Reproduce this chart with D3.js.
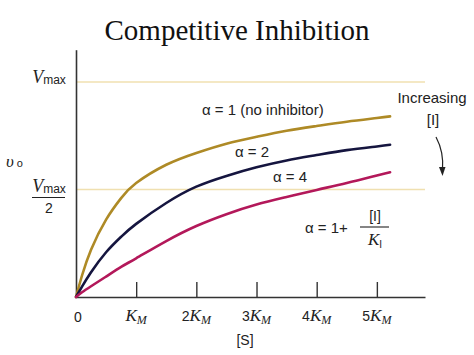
<!DOCTYPE html>
<html><head><meta charset="utf-8">
<script src="https://cdn.jsdelivr.net/npm/d3@7"></script>
<style>
html,body{margin:0;padding:0;background:#fff;}
svg{display:block;}
.sans{font-family:"Liberation Sans",Arial,sans-serif;}
.serif{font-family:"Liberation Serif","Times New Roman",serif;}
</style>
</head><body>
<svg id="c" width="474" height="355"></svg>
<script>
// ---- data (fractions of Vmax, [S] in units of K_M) ----
const sValues   = [0, 0.1, 0.25, 0.5, 0.75, 1, 1.5, 2, 2.5, 3, 3.5, 4, 4.5, 5, 5.22];
const alpha1    = [0, 0.10, 0.22, 0.36, 0.46, 0.53, 0.615, 0.67, 0.713, 0.745, 0.773, 0.795, 0.815, 0.832, 0.84];
const alpha2    = [0, 0.048, 0.115, 0.208, 0.28, 0.34, 0.437, 0.513, 0.563, 0.603, 0.635, 0.66, 0.683, 0.70, 0.708];
const alpha4    = [0, 0.022, 0.05, 0.095, 0.14, 0.18, 0.26, 0.33, 0.385, 0.43, 0.465, 0.498, 0.53, 0.565, 0.58];
const seriesNames = ["α = 1 (no inhibitor)", "α = 2", "α = 4"];
const xTickValues = [1, 2, 3, 4, 5];
const xTickCoef   = ["", "2", "3", "4", "5"];
const refLevels   = [1, 0.5];

const svg = d3.select("#c");
const x = d3.scaleLinear().domain([0, 5.8]).range([76, 425]);
const y = d3.scaleLinear().domain([0, 1.15]).range([297, 49.7]);

// title
svg.append("text").attr("class","serif").attr("x",237).attr("y",40)
  .attr("text-anchor","middle").attr("font-size",29).attr("fill","#111")
  .text("Competitive Inhibition");

// reference lines
svg.selectAll("line.ref").data(refLevels).join("line").attr("class","ref")
  .attr("x1", x(0)).attr("x2", 425).attr("y1", d=>y(d)).attr("y2", d=>y(d))
  .attr("stroke","#f0e0b0").attr("stroke-width",1.6);

// x axis
const xAxis = d3.axisBottom(x).tickValues(xTickValues).tickSizeInner(-15).tickSizeOuter(0).tickFormat("");
const gx = svg.append("g").attr("transform",`translate(0,${y(0)})`).call(xAxis);
gx.select(".domain").attr("stroke","#333").attr("stroke-width",1.6);
gx.selectAll(".tick line").attr("stroke","#333").attr("stroke-width",1.4);

// y axis
const yAxis = d3.axisLeft(y).tickValues([]).tickSizeOuter(0);
const gy = svg.append("g").attr("transform",`translate(${x(0)},0)`).call(yAxis);
gy.select(".domain").attr("stroke","#333").attr("stroke-width",1.6);

// curves
const colors = ["#ae8a26", "#15153f", "#b3185a"];
const line = d3.line().x((d,i)=>x(sValues[i])).y(d=>y(d)).curve(d3.curveNatural);
[alpha1, alpha2, alpha4].forEach((arr,k)=>{
  svg.append("path").attr("d", line(arr)).attr("fill","none")
    .attr("stroke", colors[k]).attr("stroke-width",2.6).attr("stroke-linecap","round");
});

// x tick labels
svg.append("text").attr("class","sans").attr("x",x(0)+2).attr("y",322).attr("text-anchor","middle")
  .attr("font-size",14).attr("fill","#222").text("0");
xTickValues.forEach((v,i)=>{
  const t = svg.append("text").attr("x", x(v)).attr("y",321).attr("text-anchor","middle").attr("fill","#222");
  if (xTickCoef[i]) t.append("tspan").attr("class","sans").attr("font-size",14).text(xTickCoef[i]);
  t.append("tspan").attr("class","serif").attr("font-style","italic").attr("font-size",17).text("K");
  t.append("tspan").attr("class","serif").attr("font-style","italic").attr("font-size",12).attr("dy",3).text("M");
});
svg.append("text").attr("class","sans").attr("x",245).attr("y",345).attr("text-anchor","middle")
  .attr("font-size",14).attr("fill","#222").text("[S]");

// y labels
function vmax(xc, yc){
  const t = svg.append("text").attr("x",xc).attr("y",yc).attr("text-anchor","middle").attr("fill","#222");
  t.append("tspan").attr("class","serif").attr("font-style","italic").attr("font-size",18).text("V");
  t.append("tspan").attr("class","sans").attr("font-size",12).attr("dy",1).text("max");
}
vmax(49, y(1)+1);
vmax(49, 192);
svg.append("line").attr("x1",32).attr("x2",65).attr("y1",197.5).attr("y2",197.5).attr("stroke","#222").attr("stroke-width",1.2);
svg.append("text").attr("class","sans").attr("x",49).attr("y",213).attr("text-anchor","middle")
  .attr("font-size",14).attr("fill","#222").text("2");
const vo = svg.append("text").attr("x",6).attr("y",167).attr("fill","#222");
vo.append("tspan").attr("class","serif").attr("font-style","italic").attr("font-size",17).text("υ");
vo.append("tspan").attr("class","sans").attr("font-size",11).attr("dx",3).text("o");

// series labels
const labelPos = [[202,115],[235,157],[273,182]];
seriesNames.forEach((n,i)=>{
  svg.append("text").attr("class","sans").attr("x",labelPos[i][0]).attr("y",labelPos[i][1])
    .attr("font-size",15).attr("fill","#222").text(n);
});

// Increasing [I] + arrow
svg.append("text").attr("class","sans").attr("x",432).attr("y",103).attr("text-anchor","middle")
  .attr("font-size",15).attr("fill","#222").text("Increasing");
svg.append("text").attr("class","sans").attr("x",433).attr("y",125).attr("text-anchor","middle")
  .attr("font-size",15).attr("fill","#222").text("[I]");
svg.append("path").attr("d","M436,137 Q444,152 442.5,170").attr("fill","none").attr("stroke","#222").attr("stroke-width",1.2);
svg.append("path").attr("d","M439,167 L442.5,176 L445.5,167 Z").attr("fill","#222");

// alpha formula
svg.append("text").attr("class","sans").attr("x",305).attr("y",233)
  .attr("font-size",15).attr("fill","#222").text("α = 1+");
svg.append("text").attr("class","sans").attr("x",375).attr("y",221).attr("text-anchor","middle")
  .attr("font-size",14).attr("fill","#222").text("[I]");
svg.append("line").attr("x1",360).attr("x2",389).attr("y1",227).attr("y2",227).attr("stroke","#222").attr("stroke-width",1.1);
const ki = svg.append("text").attr("x",375).attr("y",245).attr("text-anchor","middle").attr("fill","#222");
ki.append("tspan").attr("class","serif").attr("font-style","italic").attr("font-size",17).text("K");
ki.append("tspan").attr("class","sans").attr("font-size",10).attr("dy",3).text("I");
</script>
</body></html>
